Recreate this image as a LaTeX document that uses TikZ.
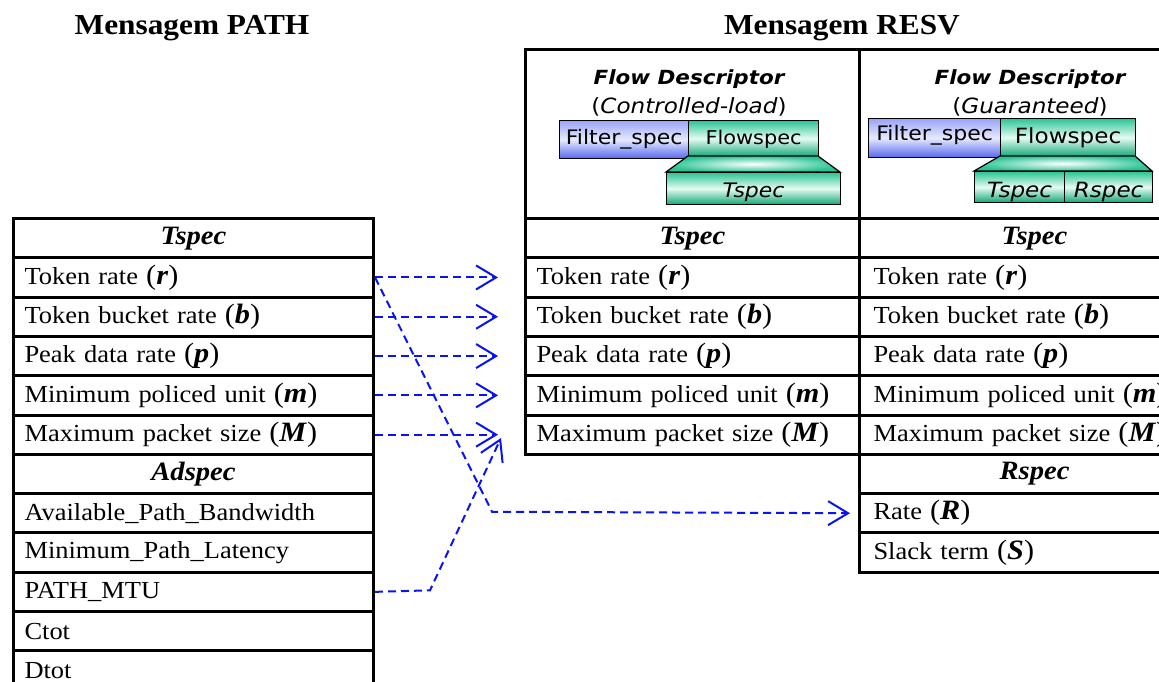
\documentclass[tikz,border=0pt]{standalone}
\usepackage{fontspec}
\setmainfont[FakeStretch=1.08]{Liberation Serif}
\newfontfamily\fdfont[FakeStretch=1.1]{DejaVu Sans}
\usetikzlibrary{arrows.meta}
\definecolor{gdark}{HTML}{0FA776}
\definecolor{gmid}{HTML}{2CC495}
\definecolor{glight}{HTML}{E6FBF3}
\definecolor{bdark}{HTML}{5567EE}
\definecolor{btop}{HTML}{9AA4F6}
\definecolor{blight}{HTML}{E6EAFE}
\definecolor{linkblue}{HTML}{0A14F0}
\newcommand\rowtxt{\fontsize{24.5}{26}\selectfont}
\newcommand\hdtxt{\fontsize{26.5}{28}\selectfont\bfseries\itshape}
\newcommand\paramv[1]{{\fontsize{28}{28}\selectfont(\textbf{\textit{#1}})}}
\begin{document}
\begin{tikzpicture}[x=1pt,y=-1pt,
  tbl/.style={draw, line width=3pt, anchor=north west, minimum height=39.3pt, inner ysep=0pt, inner xsep=11pt},
  lrow/.style={tbl, text width=338pt, align=left, font=\rowtxt},
  mrow/.style={tbl, text width=312pt, align=left, font=\rowtxt},
  rrow/.style={tbl, inner xsep=14pt, text width=322pt, align=left, font=\rowtxt},
  lhd/.style={lrow, align=center, font=\hdtxt},
  mhd/.style={mrow, align=center, font=\hdtxt},
  rhd/.style={rrow, align=center, font=\hdtxt},
  hbox/.style={draw, line width=3pt, anchor=north west, minimum height=169pt, inner sep=0pt},
  fbox/.style={draw=black, line width=1.2pt, anchor=north west, inner sep=0pt},
  gshade/.style={top color=gmid, bottom color=gdark, middle color=glight},
  bshade/.style={top color=btop, bottom color=bdark, middle color=blight},
  link/.style={draw=linkblue, dash pattern=on 8pt off 5pt, line width=2pt,
    -{Straight Barb[length=20pt,width=24pt,line width=2pt]}, shorten >=26pt},
  title/.style={font=\fontsize{29}{30}\selectfont\bfseries}
]
\useasboundingbox (0,0) rectangle (1159,682);

% titles
\node[title] (tpath) at (192,28) {Mensagem PATH};
\node[title] (tresv) at (842,28) {Mensagem RESV};

% left table (PATH)
\node[lhd]  (L0) at (12,217)   {Tspec};
\node[lrow] (L1) at (12,256.3) {Token rate \paramv{r}};
\node[lrow] (L2) at (12,295.6) {Token bucket rate \paramv{b}};
\node[lrow] (L3) at (12,334.9) {Peak data rate \paramv{p}};
\node[lrow] (L4) at (12,374.2) {Minimum policed unit \paramv{m}};
\node[lrow] (L5) at (12,413.5) {Maximum packet size \paramv{M}};
\node[lhd]  (A0) at (12,452.8) {Adspec};
\node[lrow] (A1) at (12,492.1) {Available\_Path\_Bandwidth};
\node[lrow] (A2) at (12,531.4) {Minimum\_Path\_Latency};
\node[lrow] (A3) at (12,570.7) {PATH\_MTU};
\node[lrow] (A4) at (12,610.0) {Ctot};
\node[lrow] (A5) at (12,649.3) {Dtot};

% middle (Controlled-load)
\node[hbox, minimum width=334pt] (HM) at (524,48) {};
\node[mhd]  (M0) at (524,217)   {Tspec};
\node[mrow] (M1) at (524,256.3) {Token rate \paramv{r}};
\node[mrow] (M2) at (524,295.6) {Token bucket rate \paramv{b}};
\node[mrow] (M3) at (524,334.9) {Peak data rate \paramv{p}};
\node[mrow] (M4) at (524,374.2) {Minimum policed unit \paramv{m}};
\node[mrow] (M5) at (524,413.5) {Maximum packet size \paramv{M}};

% right (Guaranteed)
\node[hbox, minimum width=350pt] (HR) at (858,48) {};
\node[rhd]  (R0) at (858,217)   {Tspec};
\node[rrow] (R1) at (858,256.3) {Token rate \paramv{r}};
\node[rrow] (R2) at (858,295.6) {Token bucket rate \paramv{b}};
\node[rrow] (R3) at (858,334.9) {Peak data rate \paramv{p}};
\node[rrow] (R4) at (858,374.2) {Minimum policed unit \paramv{m}};
\node[rrow] (R5) at (858,413.5) {Maximum packet size \paramv{M}};
\node[rhd]  (S0) at (858,452.8) {Rspec};
\node[rrow] (S1) at (858,492.1) {Rate \paramv{R}};
\node[rrow] (S2) at (858,531.4) {Slack term \paramv{S}};

% flow descriptor, controlled-load
\node[font=\fdfont\fontsize{19.5}{20}\selectfont\bfseries\itshape] (fd1) at (689,79) {Flow Descriptor};
\node[font=\fdfont\fontsize{21}{21}\selectfont] (cl1) at (689,107) {(\textit{Controlled-load})};
\node[fbox, bshade, minimum width=129pt, text height=24pt, text depth=14pt, font=\fdfont\fontsize{20}{20}\selectfont] (fs1) at (559,120) {Filter\_spec};
\node[fbox, gshade, minimum width=130pt, text height=24pt, text depth=12pt, font=\fdfont\fontsize{19}{20}\selectfont] (fw1) at (688,120) {Flowspec};
\draw[line width=1.2pt, shading=radial, inner color=white, outer color=gmid] (688,156) -- (818,156) -- (840,172) -- (666,172) -- cycle;
\node[fbox, gshade, minimum width=174pt, text height=25pt, text depth=7pt, font=\fdfont\fontsize{20}{20}\selectfont\itshape] (ts1) at (666,172) {Tspec};

% flow descriptor, guaranteed
\node[font=\fdfont\fontsize{19.5}{20}\selectfont\bfseries\itshape] (fd2) at (1030,79) {Flow Descriptor};
\node[font=\fdfont\fontsize{21}{21}\selectfont] (cl2) at (1030,107) {(\textit{Guaranteed})};
\node[fbox, bshade, minimum width=132pt, text height=22pt, text depth=17pt, font=\fdfont\fontsize{20}{20}\selectfont] (fs2) at (868,118) {Filter\_spec};
\node[fbox, gshade, minimum width=135pt, text height=25pt, text depth=13pt, font=\fdfont\fontsize{21}{21}\selectfont] (fw2) at (1000,118) {Flowspec};
\draw[line width=1.2pt, shading=radial, inner color=white, outer color=gmid] (1000,156) -- (1135,156) -- (1152,171) -- (974,171) -- cycle;
\node[fbox, gshade, minimum width=90pt, text height=26pt, text depth=5pt, font=\fdfont\fontsize{21}{21}\selectfont\itshape] (ts2) at (974,171) {Tspec};
\node[fbox, gshade, minimum width=88pt, text height=26pt, text depth=5pt, font=\fdfont\fontsize{21}{21}\selectfont\itshape] (rs2) at (1064,171) {Rspec};

% connectors
\draw[link] (L1.east) -- (M1.west);
\draw[link] (L2.east) -- (M2.west);
\draw[link] (L3.east) -- (M3.west);
\draw[link] (L4.east) -- (M4.west);
\draw[link] (L5.east) -- (M5.west);
\coordinate (k1) at (492,511.75);
\draw[link, shorten >=8pt] (L1.east) -- (k1) -- (S1.west);
\coordinate (k2) at (430,590.35);
\coordinate (k3) at (501,438);
\draw[link, shorten >=0pt] (A3.east) -- (k2) -- (k3);
\end{tikzpicture}
\end{document}
